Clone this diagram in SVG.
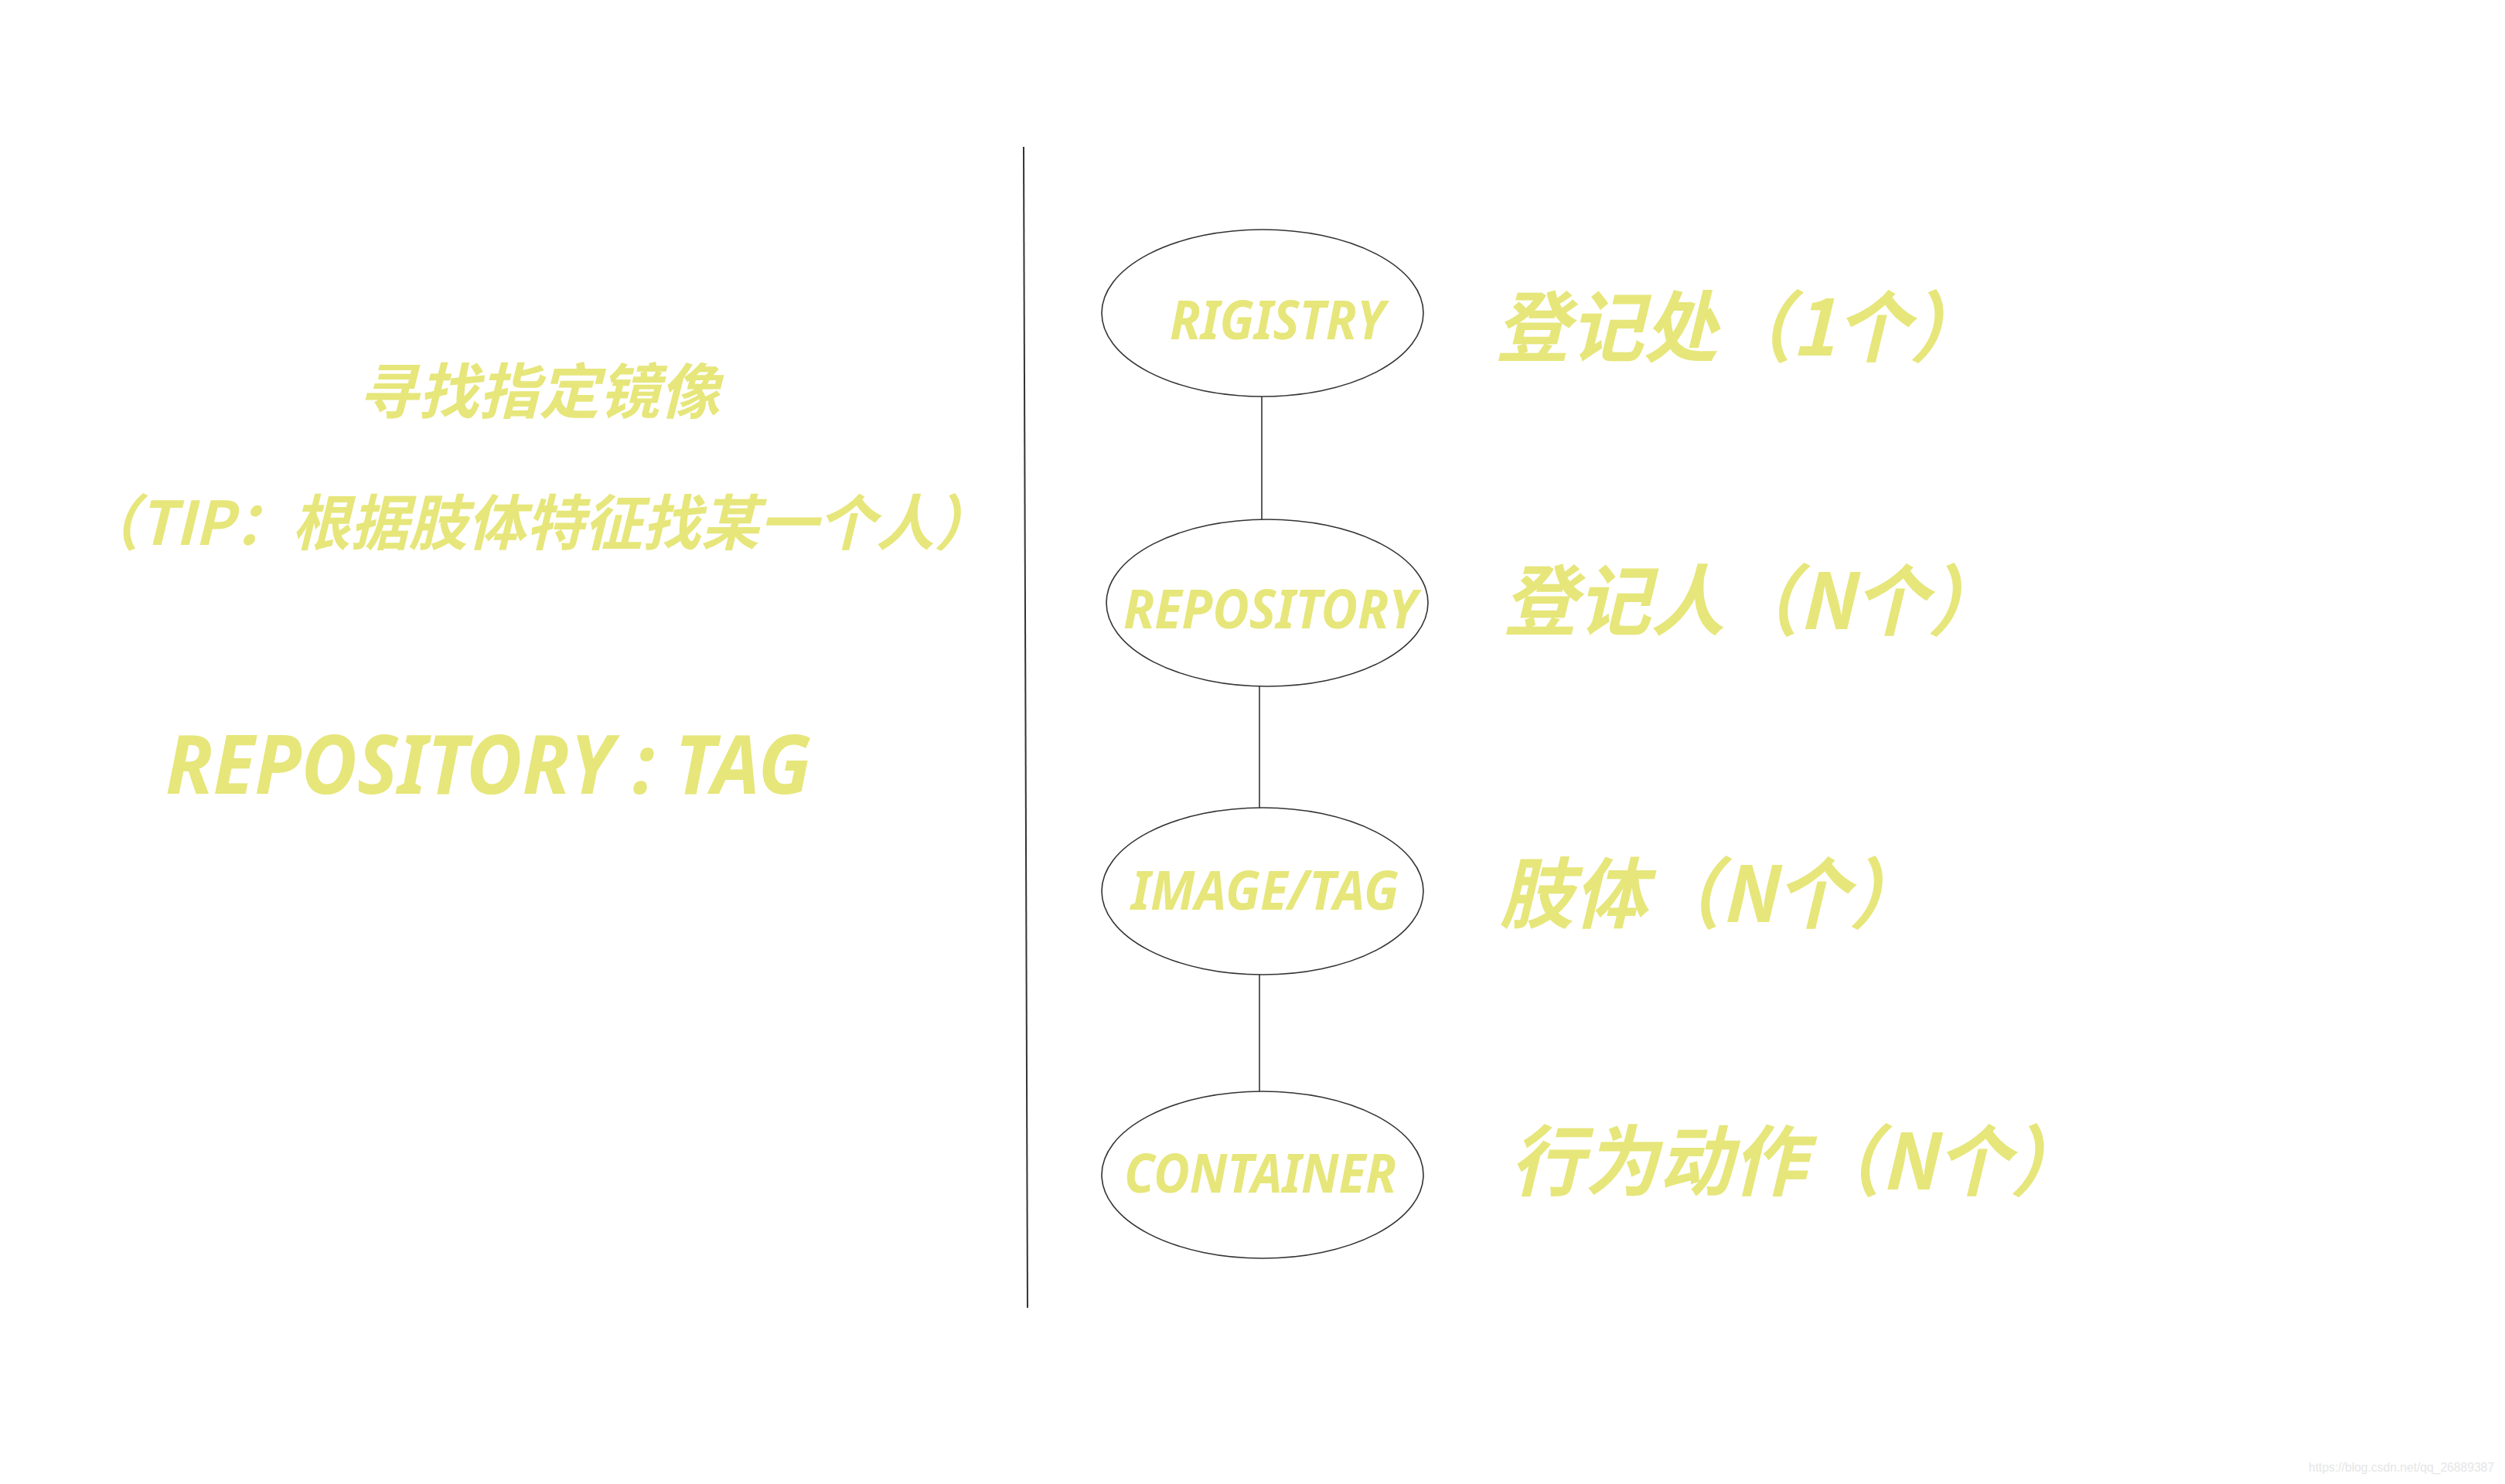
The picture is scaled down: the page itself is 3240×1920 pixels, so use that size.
<svg xmlns="http://www.w3.org/2000/svg" width="3240" height="1920" viewBox="0 0 3240 1920">
<style>
.bg{fill:#ffffff}
.node ellipse{fill:#ffffff;stroke:#333333;stroke-width:1.6}
.conn line{stroke:#333333;stroke-width:1.6}
.divider{stroke:#333333;stroke-width:2}
.nt{font-family:"Noto Sans","Noto Sans CJK SC",sans-serif;font-weight:700;font-style:italic;font-size:70px;fill:#e6e67b}
.cn{font-family:"Noto Sans CJK SC","Noto Sans",sans-serif;font-weight:700;font-style:italic;font-size:100px;fill:#e6e67b}
.lt{font-family:"Noto Sans CJK SC","Noto Sans",sans-serif;font-weight:700;font-style:italic;font-size:78px;fill:#e6e67b}
.big{font-family:"Noto Sans","Noto Sans CJK SC",sans-serif;font-weight:700;font-style:italic;font-size:105px;fill:#e6e67b}
.wm{font-family:"Liberation Sans",Arial,sans-serif;font-size:16px;fill:#e6e6e6}
</style>
<rect class="bg" x="0" y="0" width="3240" height="1920"/>
<line class="divider" x1="1324" y1="190" x2="1329" y2="1692"/>
<g id="left-notes">
<text class="lt" x="697" y="535" text-anchor="middle">寻找指定镜像</text>
<text class="lt" x="694" y="705" text-anchor="middle" textLength="1180" lengthAdjust="spacingAndGlyphs">（TIP：根据肢体特征找某一个人）</text>
<text class="big" x="214" y="1027" textLength="835" lengthAdjust="spacingAndGlyphs">REPOSITORY : TAG</text>
</g>
<g id="connectors" class="conn">
<line x1="1632" y1="513" x2="1632" y2="672"/>
<line x1="1629" y1="888" x2="1629" y2="1045"/>
<line x1="1629" y1="1261" x2="1629" y2="1412"/>
</g>
<g id="node-registry" class="node">
<ellipse cx="1633" cy="405" rx="208" ry="108"/>
<text class="nt" x="1513" y="439" textLength="278" lengthAdjust="spacingAndGlyphs">RIGISTRY</text>
</g>
<g id="node-repository" class="node">
<ellipse cx="1639" cy="780" rx="208" ry="108"/>
<text class="nt" x="1453" y="813" textLength="380" lengthAdjust="spacingAndGlyphs">REPOSITORY</text>
</g>
<g id="node-image" class="node">
<ellipse cx="1633" cy="1153" rx="208" ry="108"/>
<text class="nt" x="1463" y="1177" textLength="346" lengthAdjust="spacingAndGlyphs">IMAGE/TAG</text>
</g>
<g id="node-container" class="node">
<ellipse cx="1633" cy="1520" rx="208" ry="108"/>
<text class="nt" x="1454" y="1543" textLength="352" lengthAdjust="spacingAndGlyphs">CONTAINER</text>
</g>
<g id="labels">
<text class="cn" x="1934" y="460" textLength="632" lengthAdjust="spacingAndGlyphs">登记处（1个）</text>
<text class="cn" x="1944" y="814" textLength="645" lengthAdjust="spacingAndGlyphs">登记人（N个）</text>
<text class="cn" x="1940" y="1193" textLength="547" lengthAdjust="spacingAndGlyphs">肢体（N个）</text>
<text class="cn" x="1953" y="1539" textLength="743" lengthAdjust="spacingAndGlyphs">行为动作（N个）</text>
</g>
<text class="wm" x="2986" y="1904" textLength="240" lengthAdjust="spacingAndGlyphs">https://blog.csdn.net/qq_26889387</text>
</svg>
